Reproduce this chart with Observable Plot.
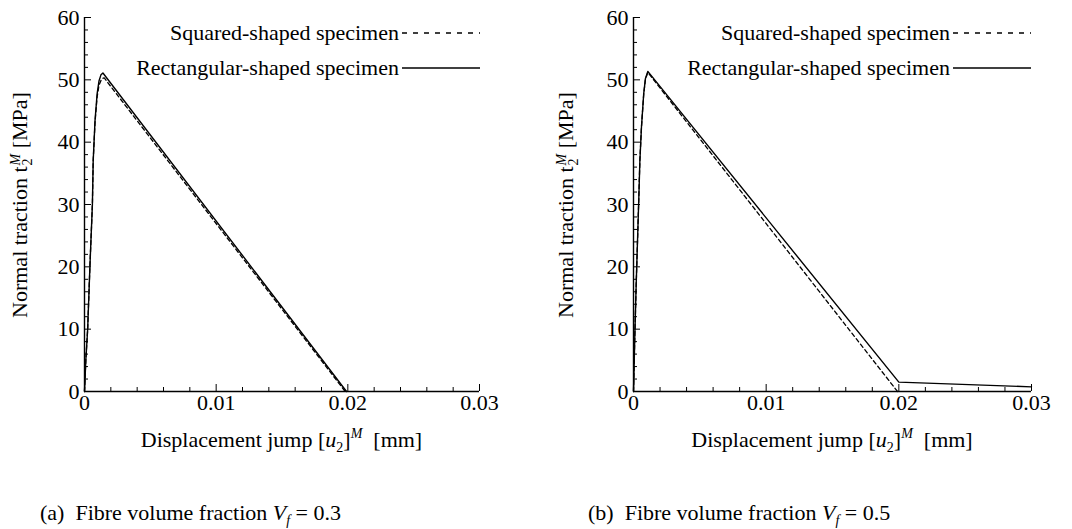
<!DOCTYPE html>
<html>
<head>
<meta charset="utf-8">
<script src="https://cdn.jsdelivr.net/npm/d3@7"></script>
<script src="https://cdn.jsdelivr.net/npm/@observablehq/plot@0.6"></script>
<style>
  html, body { margin: 0; padding: 0; background: #fff; }
  #wrap { position: relative; width: 1072px; height: 529px; background: #fff; color: #000; overflow: hidden; font-family: 'Times New Roman', Tinos, FreeSerif, serif; }
  .abs { position: absolute; white-space: nowrap; }
  .lbl { font-size: 22px; line-height: 22px; }
  .ylab { transform: translate(-50%, -50%) rotate(-90deg); transform-origin: center; }
  .stack { display: inline-flex; flex-direction: column; font-size: 14px; line-height: 12px; vertical-align: 7px; margin-left: 1px; text-align: left; }
  .sub { font-size: 14px; position: relative; top: 5px; }
  .sup { font-size: 14px; position: relative; top: -9px; }
  .leg { font-size: 22px; line-height: 22px; display: flex; align-items: center; }
  .leg svg { margin-left: 3px; }
</style>
</head>
<body>
<div id="wrap">
  <div id="pa" class="abs" style="left:0;top:0"></div>
  <div id="pb" class="abs" style="left:536px;top:0"></div>
</div>
<script>
// ---------- data ----------
const xTicksMajor = [0, 0.01, 0.02, 0.03];
const yTicksMajor = [0, 10, 20, 30, 40, 50, 60];
const xTicksMinor = [0.002, 0.004, 0.006, 0.008, 0.012, 0.014, 0.016, 0.018, 0.022, 0.024, 0.026, 0.028];
const yTicksMinor = [2, 4, 6, 8, 12, 14, 16, 18, 22, 24, 26, 28, 32, 34, 36, 38, 42, 44, 46, 48, 52, 54, 56, 58];

const seriesNames = ["Squared-shaped specimen", "Rectangular-shaped specimen"];

// Panel (a) Vf = 0.3
const aSquaredX = [0, 0.0001, 0.00024, 0.00041, 0.0006, 0.00066, 0.0008, 0.00096, 0.0011, 0.00125, 0.0014, 0.0015, 0.0198];
const aSquaredY = [0, 5, 10, 20, 30, 37, 43.2, 47.3, 49.1, 49.9, 50.25, 50.3, 0];
const aRectX    = [0, 0.0001, 0.00024, 0.00041, 0.0006, 0.00066, 0.0008, 0.00096, 0.0011, 0.00125, 0.0014, 0.0199];
const aRectY    = [0, 5, 10, 20, 30, 37, 43.5, 47.8, 49.8, 50.8, 51.1, 0];

// Panel (b) Vf = 0.5
const bSquaredX = [0, 0.0001, 0.0002, 0.0003, 0.0004, 0.00048, 0.0006, 0.00077, 0.0009, 0.00108, 0.0199];
const bSquaredY = [0, 9, 17, 24, 31, 37, 42.4, 47.7, 50.1, 51.2, 0];
const bRectX    = [0, 0.0001, 0.0002, 0.0003, 0.0004, 0.00048, 0.0006, 0.00077, 0.0009, 0.00108, 0.0200, 0.0300];
const bRectY    = [0, 9, 17, 24, 31, 37, 42.4, 47.8, 50.2, 51.35, 1.5, 0.75];

const captions = ["(a)", "(b)"];
const vfValues = ["0.3", "0.5"];

const SERIF = "'" + ["Lib", "eration", " Se", "rif"].join("") + "', 'Times New Roman', Tinos, FreeSerif, serif";

function rows(xs, ys) { return xs.map((x, i) => ({x, y: ys[i]})); }

function panel(sq, rect, ml, mr) {
  return Plot.plot({
    width: 536, height: 460,
    marginLeft: ml, marginRight: mr, marginTop: 17, marginBottom: 69,
    x: {domain: [0, 0.03]},
    y: {domain: [0, 60]},
    style: {fontFamily: SERIF, fontSize: "22px", color: "black", background: "transparent", overflow: "visible"},
    marks: [
      Plot.axisY(yTicksMajor, {tickSize: -7, tickPadding: 12, label: null, tickFormat: d => String(d), strokeWidth: 1}),
      Plot.axisY(yTicksMinor, {tickSize: -4, text: null, label: null, strokeWidth: 1}),
      Plot.axisX(xTicksMajor, {tickSize: -7, tickPadding: 10, label: null, tickFormat: d => String(d), strokeWidth: 1}),
      Plot.axisX(xTicksMinor, {tickSize: -4, text: null, label: null, strokeWidth: 1}),
      Plot.ruleX([0], {stroke: "black", strokeWidth: 1.4}),
      Plot.ruleY([0], {stroke: "black", strokeWidth: 1.4}),
      Plot.line(rows(sq.x, sq.y), {x: "x", y: "y", stroke: "black", strokeWidth: 1.3, strokeDasharray: "4,3", curve: "linear"}),
      Plot.line(rows(rect.x, rect.y), {x: "x", y: "y", stroke: "black", strokeWidth: 1.4, curve: "linear"})
    ]
  });
}

document.getElementById("pa").append(panel({x: aSquaredX, y: aSquaredY}, {x: aRectX, y: aRectY}, 84, 57));
document.getElementById("pb").append(panel({x: bSquaredX, y: bSquaredY}, {x: bRectX, y: bRectY}, 97, 41));

// ---------- text overlays ----------
const wrap = document.getElementById("wrap");
function add(html, style, cls) {
  const d = document.createElement("div");
  d.className = "abs " + (cls || "");
  d.setAttribute("style", style);
  d.innerHTML = html;
  wrap.append(d);
  return d;
}
const legLine = (dash) => `<svg width="78" height="6"><line x1="0" x2="78" y1="3" y2="3" stroke="black" stroke-width="1.3" ${dash ? 'stroke-dasharray="5,6"' : ''}/></svg>`;

const panels = [
  {x0: 0, axisX: 84, right: 479, legRight: 480, ylabX: 21, capX: 40},
  {x0: 536, axisX: 633, right: 1031, legRight: 1031, ylabX: 567, capX: 588}
];
panels.forEach((p, i) => {
  const center = (p.axisX + p.right) / 2;
  add(`${seriesNames[0]}${legLine(true)}`, `right:${1072 - p.legRight}px;top:${33 - 11}px`, "leg");
  add(`${seriesNames[1]}${legLine(false)}`, `right:${1072 - p.legRight}px;top:${68 - 11}px`, "leg");
  add(`Normal traction t<span class="stack"><i>M</i><span>2</span></span> [MPa]`,
      `left:${p.ylabX}px;top:205px`, "lbl ylab");
  add(`Displacement jump [<i>u</i><span class="sub">2</span>]<i class="sup">M</i>&nbsp; [mm]`,
      `left:${center}px;top:429px;transform:translateX(-50%)`, "lbl");
  add(`${captions[i]}&nbsp; Fibre volume fraction <i>V<span class="sub">f</span></i> = ${vfValues[i]}`,
      `left:${p.capX}px;top:502px`, "lbl");
});

function applyFont() {
  [wrap, ...wrap.querySelectorAll("*")].forEach(el => {
    el.style.setProperty("font-family", SERIF, "important");
    const t = el.tagName.toLowerCase();
    if (t === "svg" || t === "g" || t === "text") el.setAttribute("font-family", SERIF);
  });
}
applyFont();
setTimeout(applyFont, 0);
requestAnimationFrame(applyFont);
</script>
</body>
</html>
